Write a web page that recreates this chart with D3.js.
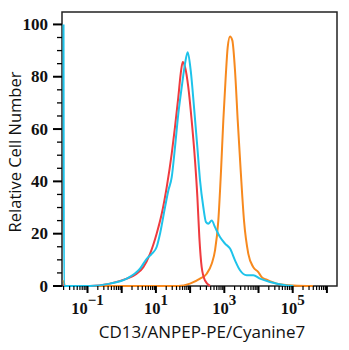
<!DOCTYPE html>
<html>
<head>
<meta charset="utf-8">
<script src="https://cdn.jsdelivr.net/npm/d3@7"></script>
<style>
  html, body { margin: 0; padding: 0; background: #fff; }
  svg { display: block; }
</style>
</head>
<body>
<div id="chart"></div>
<script>
// Fluorescence intensity (log axis) and relative cell counts per population
const redX = [0.0199, 0.021, 0.118, 0.455, 1.40, 2.75, 4.29, 6.72, 10.5, 14.8, 20.7, 29.0, 36.1, 45.2, 53.1, 60.8, 71.0, 88.5, 111, 139, 163, 186, 218, 273, 382];
const redY = [0.6, 0, 0, 0.9, 2.8, 4.7, 7.2, 12.3, 20, 27.6, 37.8, 50.6, 60.7, 72.2, 81.2, 85.6, 83.7, 76, 63.3, 48, 34, 18.7, 7.2, 2.1, 0];

const blueX = [0.0199, 0.0205, 0.118, 0.455, 1.40, 3.43, 5.38, 7.53, 10.5, 13.2, 18.5, 23.1, 29.0, 36.1, 45.2, 56.8, 71.0, 85.1, 104, 130, 163, 195, 243, 292, 340, 428, 535, 748, 1048, 1468, 2055, 2878, 4518, 7050, 11060, 21700, 66800, 104300];
const blueY = [100, 0, 0, 0.9, 2.8, 6.6, 10.4, 12.3, 14.9, 20, 30.2, 36.5, 41.6, 53, 65.9, 76, 85, 89.4, 82.4, 68.4, 53, 40.4, 30.2, 24.4, 23.8, 25, 22.5, 18.7, 16.2, 14.3, 9.8, 6, 4.1, 4.1, 2.8, 1.5, 0.2, 0];

const orangeX = [0.0199, 0.022, 45.2, 99.3, 195, 306, 428, 535, 668, 801, 935, 1098, 1257, 1468, 1714, 2055, 2466, 3017, 3768, 5036, 7050, 9865, 12410, 17380, 34050, 104300, 393000];
const orangeY = [2.2, 0, 0, 0.9, 2.8, 4.7, 8.5, 13.6, 25, 44, 63.3, 79.9, 91.3, 95.4, 93.9, 82.4, 63.3, 44, 25, 12.3, 7.2, 5.3, 3.4, 2.4, 0.9, 0.2, 0];

const yTicks = [0, 20, 40, 60, 80, 100];
const xLabelExps = [-1, 1, 3, 5];

const W = 349, H = 350;
const plot = { left: 62, right: 337, top: 12, bottom: 286 };

const x = d3.scaleLog()
  .domain([Math.pow(10, -1.746), Math.pow(10, 6.295)])
  .range([plot.left, plot.right]);
const y = d3.scaleLinear()
  .domain([0, 104.75])
  .range([plot.bottom, plot.top]);

const svg = d3.select("#chart").append("svg")
  .attr("width", W).attr("height", H);

// frame
svg.append("rect")
  .attr("x", plot.left).attr("y", plot.top)
  .attr("width", plot.right - plot.left).attr("height", plot.bottom - plot.top)
  .attr("fill", "none").attr("stroke", "#222").attr("stroke-width", 1.5);

// histogram traces
const line = d3.line()
  .x(d => x(d[0]))
  .y(d => y(d[1]))
  .curve(d3.curveMonotoneX);

const series = [
  { xs: orangeX, ys: orangeY, color: "#f7891e" },
  { xs: redX, ys: redY, color: "#ef3b3f" },
  { xs: blueX, ys: blueY, color: "#1ec3ea" }
];
series.forEach(s => {
  svg.append("path")
    .datum(s.xs.map((v, i) => [v, s.ys[i]]))
    .attr("d", line)
    .attr("fill", "none")
    .attr("stroke", s.color)
    .attr("stroke-width", 2)
    .attr("stroke-linejoin", "round");
});

// y axis: major ticks every 20 with labels, minor every 5
const yMinor = d3.range(0, 101, 5);
const yAxis = svg.append("g");
yMinor.forEach(v => {
  const major = v % 20 === 0;
  yAxis.append("line")
    .attr("x1", plot.left - (major ? 9 : 5)).attr("x2", plot.left)
    .attr("y1", y(v)).attr("y2", y(v))
    .attr("stroke", "#000").attr("stroke-width", major ? 2 : 1.3);
});
yAxis.selectAll("text.ytick")
  .data(yTicks).enter().append("text")
  .attr("class", "ytick")
  .attr("x", 48).attr("y", d => y(d) + 5.5)
  .attr("text-anchor", "end")
  .attr("font-family", "Liberation Serif, serif")
  .attr("font-weight", "bold")
  .attr("font-size", 17)
  .attr("fill", "#111")
  .text(d => d);

// x axis: log decades with minor ticks
const [d0, d1] = x.domain();
const xAxis = svg.append("g");
const xMinorVals = [];
for (let e = -2; e <= 6; e++) {
  for (let m = 1; m <= 9; m++) {
    const v = m * Math.pow(10, e);
    if (v >= d0 && v <= d1) xMinorVals.push({ v, major: m === 1 });
  }
}
xMinorVals.forEach(t => {
  xAxis.append("line")
    .attr("x1", x(t.v)).attr("x2", x(t.v))
    .attr("y1", plot.bottom).attr("y2", plot.bottom + (t.major ? 7 : 4))
    .attr("stroke", "#000").attr("stroke-width", t.major ? 2 : 1.2);
});
const xl = xAxis.selectAll("text.xtick")
  .data(xLabelExps).enter().append("text")
  .attr("class", "xtick")
  .attr("x", d => x(Math.pow(10, d)))
  .attr("y", 314)
  .attr("text-anchor", "middle")
  .attr("font-family", "Liberation Serif, serif")
  .attr("font-weight", "bold")
  .attr("font-size", 16.5)
  .attr("fill", "#111");
xl.append("tspan").text("10");
xl.append("tspan").attr("dy", -9).attr("font-size", 15).text(d => d < 0 ? "\u2212" + Math.abs(d) : d);

// axis titles
svg.append("text")
  .attr("x", 202).attr("y", 338)
  .attr("text-anchor", "middle")
  .attr("font-family", "Open Sans, sans-serif")
  .attr("font-size", 17)
  .attr("fill", "#111")
  .text("CD13/ANPEP-PE/Cyanine7");

svg.append("text")
  .attr("transform", "translate(21,152) rotate(-90)")
  .attr("text-anchor", "middle")
  .attr("font-family", "Open Sans, sans-serif")
  .attr("font-size", 16.5)
  .attr("fill", "#111")
  .text("Relative Cell Number");
</script>
</body>
</html>
